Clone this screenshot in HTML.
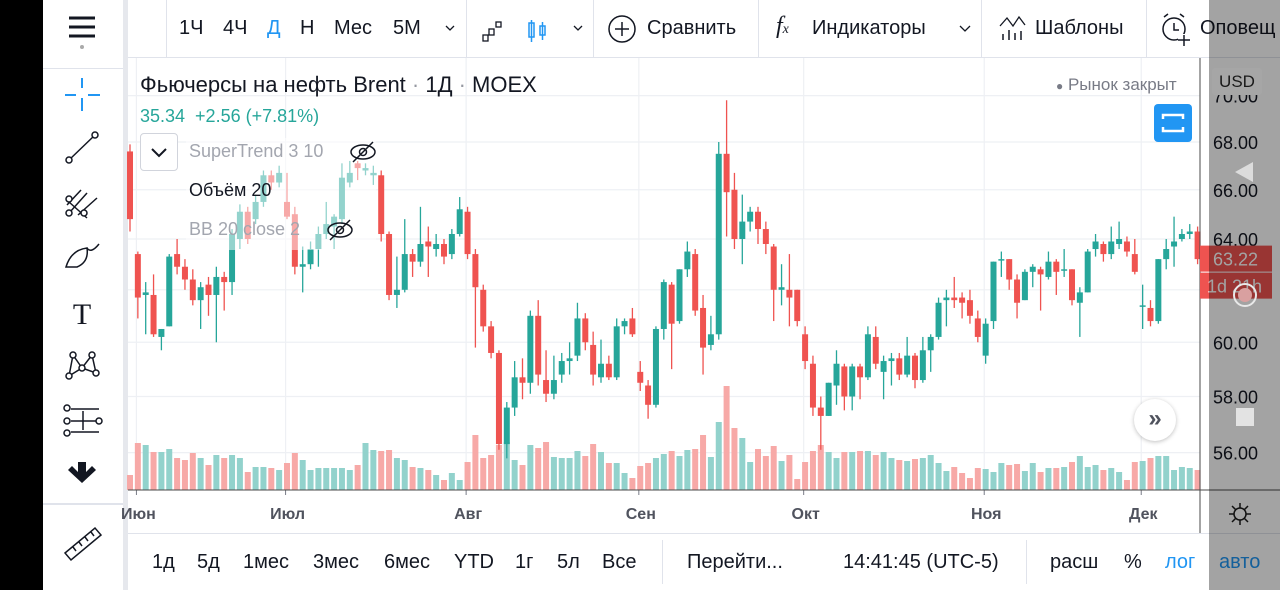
<!DOCTYPE html>
<html><head><meta charset="utf-8">
<style>
*{margin:0;padding:0;box-sizing:border-box}
body{width:1280px;height:590px;overflow:hidden;background:#fff;font-family:"Liberation Sans","Noto Sans CJK SC",sans-serif;position:relative;color:#131722}
.abs{position:absolute}
.tb{position:absolute;top:17px;font-size:20px;color:#131722;white-space:nowrap}
.bb{position:absolute;top:551px;font-size:20px;color:#131722;white-space:nowrap}
.sep{position:absolute;width:1px;background:#e0e3eb}
</style></head><body>
<div class="abs" style="left:0;top:0;width:43px;height:590px;background:#000"></div>
<div class="abs" style="left:43px;top:0;width:80px;height:590px;background:#fff"></div>
<div class="abs" style="left:123px;top:0;width:5px;height:590px;background:#e6e8ed"></div>
<div class="abs" style="left:128px;top:57px;width:1152px;height:1px;background:#e0e3eb"></div>
<div class="abs" style="left:43px;top:68px;width:80px;height:1px;background:#e0e3eb"></div>
<div class="abs" style="left:43px;top:503px;width:80px;height:2px;background:#e0e3eb"></div>

<svg class="abs" style="left:43px;top:0" width="80" height="590">
 <g stroke="#131722" stroke-width="3"><line x1="26" y1="18" x2="52" y2="18"/><line x1="26" y1="27" x2="52" y2="27"/><line x1="26" y1="36" x2="52" y2="36"/></g>
 <circle cx="39" cy="47" r="2" fill="#aaa"/>
 <g stroke="#2196f3" stroke-width="2"><line x1="39" y1="78" x2="39" y2="88"/><line x1="39" y1="98" x2="39" y2="111"/><line x1="22" y1="95" x2="33" y2="95"/><line x1="45" y1="95" x2="57" y2="95"/></g>
 <g stroke="#131722" stroke-width="1.5" fill="#fff"><line x1="26" y1="160" x2="52" y2="135"/><circle cx="26" cy="160" r="3"/><circle cx="52" cy="135" r="3"/></g>
 <g stroke="#131722" stroke-width="1.5" fill="#fff"><line x1="24" y1="205" x2="38" y2="190"/><line x1="27" y1="212" x2="44" y2="193"/><line x1="35" y1="215" x2="54" y2="198"/><line x1="26" y1="202" x2="44" y2="218"/><circle cx="26" cy="199" r="3"/><circle cx="26" cy="213" r="3"/><circle cx="41" cy="213" r="3"/></g>
 <g stroke="#131722" stroke-width="1.5" fill="none"><path d="M23 267 Q28 250 44 248 Q46 262 34 267 Z"/><path d="M44 248 Q48 254 56 244"/></g>
 <text x="39" y="324" font-size="30" text-anchor="middle" font-family="Liberation Serif" fill="#131722">T</text>
 <g stroke="#131722" stroke-width="1.5" fill="#fff"><path d="M26 376 L30 355 L39 368 L49 355 L53 373 L39 368 L26 376 L30 355"/><circle cx="26" cy="376" r="3"/><circle cx="30" cy="355" r="3"/><circle cx="39" cy="368" r="3"/><circle cx="49" cy="355" r="3"/><circle cx="53" cy="373" r="3"/></g>
 <g stroke="#131722" stroke-width="1.5" fill="#fff"><line x1="28" y1="409" x2="56" y2="409"/><line x1="28" y1="421" x2="56" y2="421"/><line x1="28" y1="432" x2="56" y2="432"/><line x1="40" y1="411" x2="40" y2="430"/><circle cx="24" cy="408" r="3"/><circle cx="24" cy="421" r="3"/><circle cx="56" cy="421" r="3"/><circle cx="24" cy="433" r="3"/></g>
 <path d="M35 462 h8 v10 l6 -6 l4 4 l-14 13 l-14 -13 l4 -4 l6 6 z" fill="#131722"/>
 <g stroke="#131722" stroke-width="1.5" fill="none"><path d="M22 553 L52 528 L58 535 L28 560 Z"/><line x1="30" y1="547" x2="33" y2="551"/><line x1="36" y1="542" x2="39" y2="546"/><line x1="42" y1="537" x2="45" y2="541"/><line x1="48" y1="532" x2="51" y2="536"/></g>
</svg>

<!-- top bar -->
<div class="sep" style="left:166px;top:0;height:57px"></div>
<div class="tb" style="left:179px">1Ч</div>
<div class="tb" style="left:223px">4Ч</div>
<div class="tb" style="left:267px;color:#2196f3">Д</div>
<div class="tb" style="left:300px">Н</div>
<div class="tb" style="left:334px">Мес</div>
<div class="tb" style="left:393px">5М</div>
<svg class="abs" style="left:440px;top:20px" width="160" height="24">
 <path d="M6 6 l4 4 l4 -4" stroke="#131722" fill="none" stroke-width="1.3"/>
 <g stroke="#131722" fill="none" stroke-width="1.3"><rect x="43" y="15" width="5" height="6"/><rect x="49" y="9" width="5" height="6"/><rect x="56" y="2" width="5" height="5"/></g>
 <g stroke="#2196f3" fill="none" stroke-width="1.5"><rect x="89" y="3" width="5" height="14"/><line x1="91.5" y1="0" x2="91.5" y2="22"/><rect x="100" y="6" width="5" height="9"/><line x1="102.5" y1="2" x2="102.5" y2="20"/></g>
 <path d="M134 6 l4 4 l4 -4" stroke="#131722" fill="none" stroke-width="1.3"/>
</svg>
<div class="sep" style="left:466px;top:0;height:57px"></div>
<div class="sep" style="left:593px;top:0;height:57px"></div>
<svg class="abs" style="left:607px;top:14px" width="30" height="30"><circle cx="15" cy="15" r="13" stroke="#131722" fill="none" stroke-width="1.5"/><line x1="15" y1="8" x2="15" y2="22" stroke="#131722" stroke-width="1.5"/><line x1="8" y1="15" x2="22" y2="15" stroke="#131722" stroke-width="1.5"/></svg>
<div class="tb" style="left:647px">Сравнить</div>
<div class="sep" style="left:758px;top:0;height:57px"></div>
<div class="tb" style="left:776px;font-family:'Liberation Serif';font-style:italic;font-size:24px;top:13px">f<span style="font-size:14px">x</span></div>
<div class="tb" style="left:812px">Индикаторы</div>
<svg class="abs" style="left:958px;top:24px" width="14" height="10"><path d="M2 2 l5 5 l5 -5" stroke="#131722" fill="none" stroke-width="1.3"/></svg>
<div class="sep" style="left:981px;top:0;height:57px"></div>
<svg class="abs" style="left:998px;top:14px" width="30" height="28"><path d="M2 12 l7 -8 l6 8 l6 -9 l6 8" stroke="#131722" fill="none" stroke-width="1.3"/><g stroke="#131722" stroke-width="1.5"><line x1="5" y1="20" x2="5" y2="26"/><line x1="11" y1="16" x2="11" y2="26"/><line x1="17" y1="19" x2="17" y2="26"/><line x1="23" y1="17" x2="23" y2="26"/></g></svg>
<div class="tb" style="left:1035px">Шаблоны</div>
<div class="sep" style="left:1146px;top:0;height:57px"></div>
<svg class="abs" style="left:1160px;top:12px" width="32" height="34"><circle cx="14" cy="17" r="11" stroke="#131722" fill="none" stroke-width="1.5"/><path d="M14 11 v7 h5" stroke="#131722" fill="none" stroke-width="1.5"/><line x1="4" y1="5" x2="8" y2="2" stroke="#131722" stroke-width="1.5"/><line x1="24" y1="5" x2="20" y2="2" stroke="#131722" stroke-width="1.5"/><rect x="18" y="22" width="12" height="12" fill="#fff"/><line x1="24" y1="23" x2="24" y2="34" stroke="#131722" stroke-width="1.5"/><line x1="18" y1="28" x2="30" y2="28" stroke="#131722" stroke-width="1.5"/></svg>
<div class="tb" style="left:1200px">Оповещ</div>

<!-- chart -->
<svg class="abs" style="left:0;top:0" width="1280" height="590" id="chart"></svg>

<div class="abs" style="left:140px;top:72px;font-size:22px;color:#131722;white-space:nowrap">Фьючерсы на нефть Brent <span style="color:#9598a1">·</span> 1Д <span style="color:#9598a1">·</span> MOEX</div>
<div class="abs" style="left:140px;top:106px;font-size:18px;color:#26a69a;white-space:nowrap">35.34&nbsp; +2.56 (+7.81%)</div>
<div class="abs" style="left:1056px;top:75px;font-size:17px;color:#787b86;white-space:nowrap"><span style="font-size:12px">●</span> Рынок закрыт</div>
<div class="abs" style="left:140px;top:133px;width:38px;height:38px;border:1px solid #d1d4dc;border-radius:4px;background:#fff"><svg width="36" height="36"><path d="M11 15 l7 7 l7 -7" stroke="#131722" fill="none" stroke-width="2"/></svg></div>
<div class="abs" style="left:189px;top:141px;font-size:18px;color:#a3a6af;white-space:nowrap">SuperTrend 3 10</div>
<div class="abs" style="left:189px;top:180px;font-size:18px;color:#131722;white-space:nowrap">Объём 20</div>
<div class="abs" style="left:189px;top:219px;font-size:18px;color:#a3a6af;white-space:nowrap">BB 20 close 2</div>
<svg class="abs" style="left:348px;top:140px" width="30" height="24"><ellipse cx="15" cy="12" rx="12" ry="7" stroke="#131722" fill="none" stroke-width="1.5"/><circle cx="15" cy="12" r="3.5" stroke="#131722" fill="none" stroke-width="1.5"/><line x1="5" y1="22" x2="25" y2="2" stroke="#131722" stroke-width="1.5"/></svg>
<svg class="abs" style="left:325px;top:218px" width="30" height="24"><ellipse cx="15" cy="12" rx="12" ry="7" stroke="#131722" fill="none" stroke-width="1.5"/><circle cx="15" cy="12" r="3.5" stroke="#131722" fill="none" stroke-width="1.5"/><line x1="5" y1="22" x2="25" y2="2" stroke="#131722" stroke-width="1.5"/></svg>
<div class="abs" style="left:1154px;top:104px;width:38px;height:38px;background:#2196f3;border-radius:4px"><svg width="38" height="38"><path d="M9 15 v-4 h20 v4 M9 23 v4 h20 v-4" stroke="#fff" fill="none" stroke-width="2.5"/></svg></div>
<div class="abs" style="left:1134px;top:399px;width:42px;height:42px;border-radius:50%;background:#fff;box-shadow:0 1px 4px rgba(0,0,0,.25);font-size:24px;text-align:center;line-height:40px;color:#50535e;font-weight:bold">»</div>

<!-- time axis / bottom -->
<div class="abs" style="left:128px;top:533px;width:1152px;height:1px;background:#e0e3eb"></div>
<div class="bb" style="left:152px">1д</div>
<div class="bb" style="left:197px">5д</div>
<div class="bb" style="left:243px">1мес</div>
<div class="bb" style="left:313px">3мес</div>
<div class="bb" style="left:384px">6мес</div>
<div class="bb" style="left:454px">YTD</div>
<div class="bb" style="left:515px">1г</div>
<div class="bb" style="left:557px">5л</div>
<div class="bb" style="left:602px">Все</div>
<div class="sep" style="left:662px;top:540px;height:44px"></div>
<div class="bb" style="left:687px">Перейти...</div>
<div class="bb" style="left:843px">14:41:45 (UTC-5)</div>
<div class="sep" style="left:1026px;top:540px;height:44px"></div>
<div class="bb" style="left:1050px">расш</div>
<div class="bb" style="left:1124px">%</div>
<div class="bb" style="left:1165px;color:#2196f3">лог</div>
<div class="bb" style="left:1219px;color:#2196f3">авто</div>

<!-- dim overlay on right -->
<div class="abs" style="left:1209px;top:0;width:71px;height:590px;background:rgba(0,0,0,0.36)"></div>
<div class="abs" style="left:1212px;top:68px;width:50px;height:27px;background:#a6a6a6;border-radius:3px;font-size:17px;text-align:center;line-height:27px;color:#1a1a1a">USD</div>
<svg class="abs" style="left:1209px;top:150px" width="71" height="290"><path d="M26 22 L44 12 L44 32 Z" fill="#dcdcdc"/><circle cx="36" cy="145" r="11" fill="none" stroke="#e8e8e8" stroke-width="2"/><circle cx="36" cy="145" r="7" fill="#d9a0a0"/><rect x="27" y="258" width="18" height="18" fill="#e3e3e3"/></svg>
<svg class="abs" style="left:1226px;top:500px" width="28" height="28"><circle cx="14" cy="14" r="6" stroke="#111" fill="none" stroke-width="1.5"/><g stroke="#111" stroke-width="1.5"><line x1="14" y1="3" x2="14" y2="8"/><line x1="14" y1="20" x2="14" y2="25"/><line x1="3" y1="14" x2="8" y2="14"/><line x1="20" y1="14" x2="25" y2="14"/><line x1="6" y1="6" x2="10" y2="10"/><line x1="18" y1="18" x2="22" y2="22"/><line x1="22" y1="6" x2="18" y2="10"/><line x1="6" y1="22" x2="10" y2="18"/></g></svg>

<script>
const opens=[67.6,63.4,61.8,61.8,60.2,60.6,63.4,62.9,62.4,61.6,62.2,61.8,62.5,62.3,64.0,65.1,64.8,65.5,66.6,66.3,65.5,65.0,62.9,63.0,63.6,64.2,64.5,64.8,66.3,67.1,66.8,66.6,66.6,64.2,61.8,62.0,63.4,63.1,63.9,63.6,63.8,63.4,64.2,65.1,63.4,62.0,60.6,59.6,56.3,57.6,58.7,58.5,61.0,58.6,58.1,58.8,59.3,59.5,60.9,59.9,58.7,59.2,58.7,60.6,60.9,58.9,58.4,57.7,60.5,62.2,60.8,62.8,63.4,61.3,59.9,60.3,67.5,66.0,64.0,64.7,65.1,64.4,63.7,62.0,62.0,62.0,60.3,59.2,57.6,57.3,58.4,59.1,58.0,59.1,58.7,60.2,58.9,59.3,59.4,58.8,59.5,58.6,59.7,60.2,61.6,61.7,61.7,61.6,60.9,59.5,60.8,63.2,63.2,62.4,61.6,62.7,62.8,62.5,63.1,62.8,62.8,61.5,61.9,63.6,63.8,63.4,63.8,63.9,63.4,61.4,61.3,60.8,63.2,63.7,64.0,64.2,64.3];
const closes=[64.8,61.7,61.9,60.3,60.5,63.3,62.9,62.4,61.6,62.1,61.8,62.5,62.3,64.2,65.1,64.0,65.5,66.6,66.3,66.7,64.9,62.9,63.0,63.6,64.2,64.6,64.9,66.5,66.7,66.9,66.9,66.7,64.2,61.8,62.0,63.4,63.1,63.8,63.7,63.8,63.3,64.2,65.2,63.4,62.1,60.6,59.6,56.3,57.6,58.7,58.5,61.0,58.8,58.1,58.6,59.3,59.4,60.9,60.0,58.8,59.2,58.7,60.6,60.8,60.3,58.5,57.7,60.5,62.3,60.7,62.8,63.5,61.2,59.8,60.3,67.5,65.9,64.0,64.7,65.1,64.4,63.8,62.0,62.1,61.7,60.8,59.3,57.6,57.3,58.5,59.2,58.0,59.1,58.7,60.3,59.2,59.3,59.4,58.8,59.5,58.6,59.7,60.2,61.5,61.7,61.6,61.5,61.0,60.2,60.7,63.1,63.2,62.4,61.5,62.7,62.9,62.6,63.1,62.7,62.8,61.6,61.9,63.5,63.9,63.4,63.9,64.0,63.5,62.7,61.4,60.8,63.2,63.6,63.9,64.2,64.3,63.2];
const highs=[67.9,63.5,62.3,62.6,60.5,63.4,64.0,63.2,62.8,62.3,62.5,62.9,62.7,64.4,65.4,65.3,65.8,66.8,66.8,67.0,66.7,65.3,63.7,63.9,64.5,65.5,65.0,67.1,67.2,67.2,67.1,67.0,66.8,64.3,63.3,64.8,63.6,65.3,64.5,64.2,64.0,64.4,65.7,65.3,63.6,62.2,60.8,59.7,57.8,59.3,59.4,61.2,61.6,59.7,59.5,59.6,60.0,61.5,61.1,60.4,60.1,59.5,60.9,60.9,61.3,59.3,58.6,60.6,62.4,62.3,62.8,63.9,63.6,61.8,61.0,68.0,69.8,66.7,65.8,65.3,65.3,64.7,63.8,63.0,63.4,62.0,60.6,59.5,58.0,58.5,59.7,59.2,59.2,59.2,60.6,60.6,59.5,59.6,59.6,60.2,59.6,60.2,60.3,61.7,62.0,62.5,61.9,62.0,61.2,60.9,63.1,63.5,63.2,62.6,62.8,63.0,62.9,63.5,63.2,63.6,62.8,62.1,63.6,64.2,63.9,64.5,64.7,64.1,64.0,62.2,61.6,63.2,64.0,64.9,64.4,64.6,64.5];
const lows=[64.3,60.9,60.3,60.2,59.7,60.6,62.6,62.0,61.4,60.5,61.0,60.0,61.2,61.8,63.6,63.8,64.6,65.3,66.0,66.1,64.8,62.6,61.9,62.8,62.9,64.0,63.6,64.6,66.1,66.4,66.6,66.2,63.9,61.6,61.3,61.9,62.5,62.9,62.5,63.3,63.0,63.2,64.1,63.2,59.8,60.4,59.4,56.1,55.8,57.3,57.9,58.1,58.4,57.8,57.9,58.5,58.8,59.3,59.7,58.4,58.5,58.6,58.6,60.3,60.2,58.2,57.2,57.6,60.1,59.0,60.7,62.5,61.0,58.8,59.7,60.1,64.1,63.6,63.0,64.3,63.8,63.4,60.8,61.4,60.6,60.6,59.0,57.3,56.1,57.3,57.7,57.5,57.5,57.9,58.6,59.0,57.9,58.4,58.6,58.7,58.3,58.5,58.9,60.1,60.6,61.3,60.9,60.7,60.0,59.2,60.5,62.5,62.0,60.9,61.6,62.1,61.2,62.4,61.8,62.5,61.4,60.2,61.9,63.3,63.1,63.2,63.6,63.3,62.6,60.5,60.6,60.7,62.8,62.9,63.9,64.0,63.0];
const volumes=[15,47,45,38,38,41,32,30,37,32,25,35,32,35,32,18,23,23,22,20,27,37,30,20,22,22,22,22,20,25,47,40,39,40,32,30,23,22,20,15,10,17,10,28,55,32,35,45,48,30,25,45,42,48,33,32,32,39,34,46,38,27,27,17,12,24,27,32,36,39,34,40,41,55,33,68,104,62,52,28,41,34,44,29,35,11,28,39,45,38,32,38,38,39,39,35,38,32,30,29,31,32,35,27,19,23,17,12,22,21,18,27,25,26,19,27,18,22,22,23,28,34,23,25,20,22,18,10,28,29,32,34,34,20,23,22,20];
const priceTicks=[56,58,60,62,64,66,68,70];
const priceTickLabels=["56.00","58.00","60.00","","64.00","66.00","68.00","70.00"];
const monthLabels=["Июн","Июл","Авг","Сен","Окт","Ноя","Дек"];
const monthStartIndex=[1,20,43,65,86,109,129];
const lastPrice=63.22;

const NS="http://www.w3.org/2000/svg";
const svg=document.getElementById('chart');
const X0=130, STEP=7.85, LEFT=128, RIGHT=1200, TOP=58, BOT=490;
function xScale(i){return X0+i*STEP;}
function yScale(p){return 142+1600*Math.log(68/p);}
const maxVol=Math.max(...volumes);
function vScale(v){return v/maxVol*104;}
function mk(tag,attrs){const e=document.createElementNS(NS,tag);for(const k in attrs)e.setAttribute(k,attrs[k]);svg.appendChild(e);return e;}

priceTicks.forEach((p,k)=>{const y=yScale(p);
 const g=mk('line',{x1:LEFT,x2:RIGHT,y1:y,y2:y,stroke:'#eef0f4','stroke-width':1.2});
 
 
 if(priceTickLabels[k]){const t=mk('text',{x:1213,y:y+7,'font-size':18,fill:'#131722','font-family':'Liberation Sans'});t.textContent=priceTickLabels[k];
 
 }
});
monthStartIndex.forEach((idx,k)=>{const x=xScale(idx)-0.5*STEP+2.5;
 const g=mk('line',{x1:x,x2:x,y1:TOP,y2:BOT,stroke:'#eef0f4','stroke-width':1.2});
 
 
 const tk=mk('line',{x1:x,x2:x,y1:BOT,y2:BOT+5,stroke:'#787b86'});
 
 
 const t=mk('text',{x:x+2,y:519,'font-size':16,'font-weight':'bold',fill:'#50535e','text-anchor':'middle','font-family':'Liberation Sans'});
 t.textContent=monthLabels[k];
 
 
});
volumes.forEach((v,i)=>{const up=closes[i]>=opens[i];const h=vScale(v);
 const r=mk('rect',{x:xScale(i)-3,y:BOT-h,width:6,height:h,fill:up?'#92d2cc':'#f7a9a7'});
 
 
});
opens.forEach((o,i)=>{const c=closes[i];const up=c>=o;const col=up?'#26a69a':'#ef5350';const x=xScale(i);
 const w=mk('line',{x1:x,x2:x,y1:yScale(highs[i]),y2:yScale(lows[i]),stroke:col,'stroke-width':1.3});
 
 
 const yt=yScale(Math.max(o,c)),yb=yScale(Math.min(o,c));
 const b=mk('rect',{x:x-3,y:yt,width:6,height:Math.max(1.5,yb-yt),fill:col});
 
 
});
const veil=mk('rect',{x:186,y:138,width:190,height:112,fill:'#fff','fill-opacity':0.5});


const ax=mk('line',{x1:RIGHT,x2:RIGHT,y1:TOP,y2:533,stroke:'#4a4a4a','stroke-width':1});


const tx=mk('line',{x1:LEFT,x2:1280,y1:BOT,y2:BOT,stroke:'#4a4a4a','stroke-width':1});


const ly=yScale(lastPrice);
const lb=mk('rect',{x:1200,y:ly-13,width:72,height:26,fill:'#ef5350'});


const lt=mk('text',{x:1213,y:ly+7,'font-size':18,fill:'#fff','font-family':'Liberation Sans'});
lt.textContent=lastPrice.toFixed(2);


const cb=mk('rect',{x:1200,y:ly+14,width:72,height:26,fill:'#ef5350'});


const ct=mk('text',{x:1207,y:ly+34,'font-size':18,fill:'#fff','font-family':'Liberation Sans'});
ct.textContent='1d 21h';


</script>
</body></html>
